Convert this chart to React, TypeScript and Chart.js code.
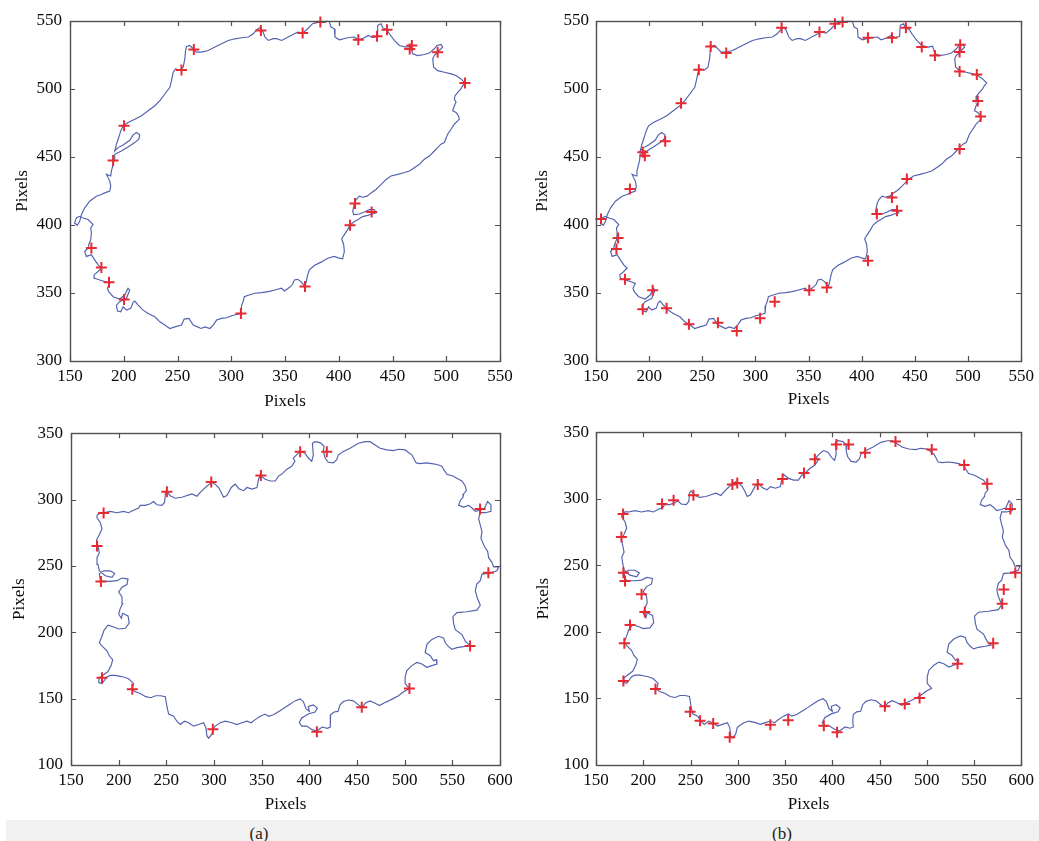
import React, { useEffect, useRef } from 'react';
import { Chart, registerables } from 'chart.js';
Chart.register(...registerables);

type Pt = [number, number];

// Contour of the upper object (panels top row)
const contourA: Pt[] = [
  [160.6,407.6],[163.7,412.6],[168.3,417.5],[174.5,421.2],[179.2,422.4],[182.3,423.6],[187.0,424.9],[187.9,428.6],[187.0,432.3],[183.9,437.2],[187.9,436.0],[188.5,439.7],[190.1,444.6],[191.0,447.5],[191.6,452.0],[197.8,454.4],[204.0,457.4],[210.3,460.6],[214.0,463.1],[214.9,466.3],[211.8,468.0],[208.7,466.3],[205.6,462.3],[199.4,458.9],[194.7,456.9],[191.6,454.4],[193.2,459.4],[195.3,464.3],[197.2,469.2],[199.4,472.9],[204.0,475.4],[210.3,477.8],[216.5,480.3],[222.7,484.0],[228.9,487.7],[233.6,491.4],[238.2,496.3],[242.9,501.2],[244.4,506.2],[246.0,512.3],[248.1,514.8],[252.2,514.0],[255.3,516.0],[256.8,522.2],[257.5,528.3],[258.4,531.3],[261.5,532.0],[265.2,529.1],[267.7,527.1],[272.4,527.1],[278.6,528.3],[284.8,530.8],[291.0,533.3],[297.2,535.7],[303.4,536.9],[309.6,537.7],[315.9,538.2],[320.5,540.6],[323.6,543.6],[326.7,545.1],[328.9,543.1],[331.4,538.2],[334.5,535.7],[339.2,537.0],[342.3,537.0],[346.9,535.7],
  [355.6,539.4],[361.8,541.9],[366.4,541.1],[371.1,544.3],[375.7,548.0],[382.9,549.5],[389.7,549.8],[391.2,549.5],[392.8,545.6],[395.9,544.3],[396.5,538.2],[400.5,536.2],[408.3,537.7],[414.5,538.2],[418.2,536.2],[423.8,537.7],[427.5,539.4],[431.6,537.7],[435.6,538.7],[436.2,546.8],[439.3,548.0],[440.9,545.1],[444.9,543.6],[447.1,540.6],[451.7,535.7],[456.4,532.0],[462.6,530.8],[466.6,531.5],[468.8,525.9],[473.4,524.6],[479.6,525.4],[484.3,526.4],[488.9,529.6],[491.4,532.0],[495.1,532.8],[496.7,530.8],[493.6,528.3],[488.9,524.6],[487.4,522.2],[488.3,516.0],[492.0,513.5],[498.2,512.3],[504.4,511.1],[509.1,509.9],[513.7,507.4],[517.5,504.4],[515.3,502.5],[513.7,500.0],[510.6,497.5],[508.2,495.1],[507.5,492.6],[509.1,490.2],[507.5,487.7],[506.0,484.0],[509.1,482.8],[511.3,480.3],[512.2,477.8],[510.6,476.6],[507.5,474.1],[504.4,470.4],[501.3,466.8],[499.8,463.8],[498.2,460.6],[495.1,459.4],[492.0,456.9],[488.9,454.4],[484.3,450.7],[479.6,448.3],[475.0,444.6],[470.3,442.1],[465.7,439.7],[460.4,438.4],[454.8,437.2],[448.6,436.0],[444.0,433.5],[440.9,431.0],[437.8,428.6],[434.7,426.1],[430.0,423.6],[426.3,421.2],[422.3,420.4],[419.2,421.2],[416.1,418.7],[414.5,415.8],[413.0,410.1],[413.9,407.6],[419.2,408.1],[423.8,409.6],[428.5,411.3],[433.1,411.3],[434.7,408.9],[430.6,408.1],[426.9,407.1],[422.3,406.2],[417.6,403.9],[413.9,402.2],[410.5,399.8],[408.3,396.6],[405.2,392.9],[402.7,389.9],[404.6,385.5],[405.2,380.5],[403.6,375.1],[400.5,375.6],[395.9,376.9],[389.7,375.6],[383.5,372.7],[377.3,370.2],[372.6,367.0],[371.1,363.3],[369.8,358.4],[368.6,354.7],[364.9,358.4],[361.8,360.1],[358.7,359.6],[357.1,356.4],[354.0,354.0],[349.4,351.5],
  [346.9,353.5],[340.7,352.2],[334.5,351.0],[328.3,350.3],[322.1,349.8],[315.9,348.4],[312.1,347.3],[311.2,344.1],[309.6,340.7],[309.0,335.0],[305.0,334.2],[300.3,333.3],[295.7,331.8],[291.0,331.3],[286.4,330.1],[283.2,326.4],[280.1,323.9],[275.5,325.1],[271.8,323.9],[268.6,325.1],[264.6,326.4],[260.6,331.3],[256.2,330.8],[253.7,326.4],[247.5,325.1],[242.9,323.9],[238.2,326.4],[233.6,328.8],[228.9,332.5],[222.7,335.0],[218.0,337.4],[213.4,341.1],[210.3,344.1],[208.7,343.1],[206.5,338.7],[202.5,337.4],[199.4,339.9],[197.2,336.2],[194.1,336.7],[193.2,341.1],[196.3,343.6],[202.5,346.1],[205.6,352.2],[204.0,353.5],[200.9,348.5],[196.3,345.6],[190.1,347.3],[186.0,351.0],[184.8,353.5],[187.0,357.1],[182.3,358.4],[177.6,359.6],[173.0,360.8],[172.4,363.3],[176.1,365.8],[179.2,368.2],[176.1,370.7],[173.0,374.4],[169.9,378.1],[165.2,376.9],[163.7,380.5],[166.8,383.0],[167.4,385.5],[169.3,389.2],[169.9,394.1],[169.3,397.8],[171.4,400.3],[166.8,404.0],[162.1,405.2],[159.0,406.4],[155.9,405.2],[154.3,401.5],[156.8,399.8],[159.0,402.7]
];

// Contour of the lower object (panels bottom row)
const contourB: Pt[] = [
  [177.3,288.2],[180.7,290.1],[184.2,290.1],[191.2,291.1],[198.2,290.1],[205.2,291.1],[210.4,290.1],[215.7,291.9],[220.9,293.6],[222.6,295.6],[227.9,295.6],[233.2,296.8],[236.6,298.5],[240.1,296.1],[245.4,295.6],[248.2,298.0],[248.9,304.2],[250.6,305.9],[254.1,302.9],[259.4,301.0],[266.4,301.7],[271.6,303.0],[276.8,304.2],[282.1,302.5],[285.6,305.4],[289.1,307.9],[293.6,310.8],[297.8,312.8],[301.3,311.6],[304.8,309.1],[307.6,305.4],[310.0,301.7],[313.5,303.0],[318.1,309.1],[322.3,311.6],[325.8,308.4],[331.0,306.7],[334.6,309.1],[339.8,307.9],[345.1,309.1],[346.7,315.3],[348.5,318.2],[353.7,315.3],[359.0,314.0],[364.2,314.0],[367.7,317.7],
  [370.9,319.0],[376.2,322.7],[381.4,325.1],[384.9,328.8],[383.2,331.3],[388.4,335.0],[390.9,336.2],[395.4,335.0],[399.0,331.3],[402.5,328.8],[404.2,333.7],[403.2,342.4],[406.0,343.6],[411.2,342.9],[415.4,340.4],[414.7,336.2],[416.5,331.3],[420.0,328.1],[425.2,327.6],[428.7,330.0],[430.5,333.7],[435.7,336.2],[442.7,338.7],[451.5,342.4],[458.5,343.6],[463.7,343.6],[469.0,341.1],[474.3,338.7],[481.3,337.4],[488.3,336.9],[493.5,337.9],[500.5,337.4],[504.0,335.5],[507.5,333.7],[509.3,331.3],[512.1,327.6],[516.3,327.1],[522.6,327.6],[528.5,327.1],[533.8,326.4],[539.1,325.1],[540.8,322.7],[544.3,319.0],[550.6,317.7],[556.6,315.3],[560.1,314.0],[563.6,310.3],[564.7,306.7],[561.8,304.2],[561.2,301.7],[558.3,299.3],[556.6,295.6],[561.8,294.3],[567.1,295.6],[570.6,293.6],[574.1,291.1],[578.6,291.9],[583.5,293.1],[587.0,298.5],[590.5,296.1],[590.5,291.1],[584.6,290.1],[579.3,290.1],[577.6,285.7],[579.3,280.8],[581.1,275.9],[580.0,270.9],[583.5,264.8],[587.0,261.1],[588.1,256.2],[591.6,252.5],[593.3,249.3],[598.6,249.3],[596.8,246.3],[588.1,244.3],[581.1,243.8],[579.3,238.9],[575.8,236.5],[574.1,231.5],[575.8,226.6],[579.3,220.4],[575.8,216.7],[565.3,215.5],[554.8,214.8],[550.6,211.8],[551.3,206.9],[553.1,202.0],[560.1,198.3],[563.6,193.3],[568.2,190.1],[561.8,189.2],[554.8,188.4],[549.6,187.2],[546.1,189.2],[542.6,192.1],[540.8,195.8],[535.6,197.0],[528.5,194.6],[523.3,190.9],[521.5,184.7],[526.8,182.3],[530.3,178.6],[533.1,179.4],[533.8,176.1],[528.5,174.9],[523.3,173.6],[518.0,176.1],[512.8,177.3],[507.5,174.9],[502.3,171.2],[500.5,166.3],[500.5,161.3],[505.1,157.6],[498.8,155.2],[493.5,152.2],[488.3,150.2],[483.0,148.3],[477.8,146.6],[473.6,144.8],[469.0,146.6],[463.7,148.3],[458.5,146.6],[455.7,143.3],[451.5,145.3],[446.2,148.3],[440.9,149.0],[435.7,147.8],[432.2,145.3],[430.1,140.4],[425.9,139.9],[422.3,137.9],[421.7,133.0],[422.3,128.6],[418.8,127.6],[413.5,128.6],[407.7,125.6],[402.5,126.8],[397.2,129.3],[392.0,129.3],[389.5,131.8],[392.0,135.5],[398.9,138.4],[406.0,139.9],[408.4,142.9],[404.2,145.3],[398.9,144.1],[400.0,140.4],[396.5,142.4],[393.7,147.8],[390.2,149.8],[384.9,148.3],[379.7,145.8],[374.4,143.3],[369.2,140.9],
  [362.4,137.9],[357.2,136.7],[353.7,138.4],[348.5,136.7],[343.2,134.2],[339.0,131.8],[334.5,133.0],[329.2,131.8],[324.0,130.5],[318.8,131.8],[311.8,133.0],[306.5,131.8],[301.3,129.3],[299.5,128.1],[297.8,123.2],[294.3,120.2],[292.6,121.9],[291.5,128.1],[289.1,131.8],[283.8,130.5],[278.6,129.3],[273.3,131.8],[269.1,133.0],[264.6,130.5],[261.1,133.0],[257.6,136.7],[252.4,138.4],[250.6,144.1],[248.9,151.5],[244.1,152.2],[238.8,152.2],[233.6,150.7],[228.4,151.5],[222.7,153.9],[217.4,155.2],[213.9,156.9],[215.7,161.3],[210.4,165.0],[205.2,166.3],[200.0,167.0],[196.5,167.5],[191.2,167.5],[187.7,166.3],[182.5,161.3],[179.0,162.1],[179.7,165.5],[184.2,168.0],[188.8,170.4],[192.3,175.4],[193.7,179.3],[190.2,182.3],[187.7,186.0],[182.5,189.7],[179.7,192.1],
  [182.5,197.0],[184.6,201.5],[188.8,205.4],[194.7,204.0],[200.0,202.5],[207.0,203.0],[211.1,206.9],[209.8,212.3],[204.2,214.3],[202.8,210.6],[200.0,213.8],[201.7,218.0],[204.2,221.7],[203.5,226.6],[200.0,230.3],[203.5,234.0],[208.7,236.0],[209.8,240.1],[203.5,240.9],[198.2,238.9],[191.2,238.4],[184.2,238.4],[180.7,239.4],[179.7,244.3],[184.2,246.3],[191.2,246.3],[195.8,244.3],[193.0,241.4],[186.0,242.6],[179.7,246.3],[178.3,251.2],[177.3,256.2],[179.7,259.9],[178.3,264.8],[176.9,269.7],[179.7,273.4],[182.5,277.8],[180.7,282.8],[177.3,286.2]
];

// Detected corner points (red crosses)
const cornersTopA: Pt[] = [
  [265.2,529.1],[253.7,514.0],[200.3,472.9],[190.1,447.5],[169.9,383.0],[179.2,368.7],[186.3,357.9],[200.3,345.3],[309.0,335.0],[368.6,354.7],[410.5,399.8],[430.6,409.6],[415.1,415.8],[517.4,504.4],[492.0,527.0],[466.0,529.5],[468.0,532.0],[444.9,543.6],[435.6,538.7],[418.2,536.2],[382.9,549.3],[366.4,541.1],[327.6,543.1]
];
const cornersTopB: Pt[] = [
  [154.7,404.4],[170.8,390.4],[169.2,382.3],[177.3,360.2],[203.3,352.1],[194.0,338.1],[216.4,338.8],[237.4,327.0],[264.7,328.2],[282.4,322.1],[304.4,331.4],[318.1,343.5],[350.6,352.1],[367.1,354.0],[405.8,373.7],[414.2,408.1],[433.1,410.5],[428.4,420.3],[442.4,433.8],[492.0,455.9],[511.8,479.8],[509.1,491.1],[508.2,510.7],[492.0,512.9],[492.0,527.2],[492.6,532.6],[468.8,524.7],[456.4,530.8],[441.5,545.1],[428.4,537.7],[405.8,537.7],[381.9,549.3],[374.8,548.0],[360.2,541.9],[324.6,545.1],[272.5,526.4],[257.9,531.3],[246.7,514.1],[230.0,489.6],[215.1,461.6],[195.9,451.0],[194.0,453.5],[181.9,426.5]
];
const cornersBottomA: Pt[] = [
  [177.3,265.0],[184.2,289.8],[181.4,238.3],[182.5,165.8],[214.3,157.0],[250.6,305.8],[297.1,313.2],[349.2,318.1],[390.4,336.0],[418.3,336.0],[298.8,127.0],[407.9,125.0],[455.0,143.5],[505.0,157.7],[568.6,189.6],[587.8,244.9],[579.1,292.8]
];
const cornersBottomB: Pt[] = [
  [178.7,288.6],[176.9,271.2],[179.0,244.4],[180.7,238.3],[198.2,228.2],[201.7,214.9],[186.0,205.1],[180.0,191.4],[179.0,163.1],[212.9,157.0],[219.9,296.0],[232.1,298.9],[253.1,302.6],[249.6,140.0],[260.1,133.2],[274.0,131.2],[291.5,120.9],[294.3,310.7],[299.5,311.9],[321.2,310.7],[347.4,314.9],[370.1,319.3],[381.6,329.6],[404.4,340.7],[417.3,340.7],[434.8,334.5],[466.9,343.1],[505.3,337.0],[539.6,325.4],[564.0,311.2],[588.5,292.3],[593.7,244.4],[581.5,231.9],[579.8,221.1],[570.3,191.4],[532.6,176.1],[492.4,150.3],[476.7,145.9],[455.7,144.2],[405.1,124.6],[391.1,129.5],[334.5,130.2],[353.4,133.6]
];

// Tick values
const xTicksTop = [150, 200, 250, 300, 350, 400, 450, 500, 550];
const yTicksTop = [300, 350, 400, 450, 500, 550];
const xTicksBottom = [150, 200, 250, 300, 350, 400, 450, 500, 550, 600];
const yTicksBottom = [100, 150, 200, 250, 300, 350];
const axisTitle = 'Pixels';
const captions = ['(a)', '(b)'];

const FONT = "'Liberation Serif', 'DejaVu Serif', serif";
const BLUE = '#5261ae';
const RED = '#e62a32';
const FRAME = '#505050';
const TEXT = '#0a0a0a';

const framePlugin = {
  id: 'frameBox',
  afterDraw(chart: any) {
    const { ctx, chartArea: a, scales } = chart;
    const x = scales.x, y = scales.y;
    const L = 5;
    ctx.save();
    ctx.strokeStyle = FRAME;
    ctx.lineWidth = 1.2;
    ctx.beginPath();
    x.ticks.forEach((t: any) => {
      const px = Math.round(x.getPixelForValue(t.value)) + 0.5;
      ctx.moveTo(px, a.bottom); ctx.lineTo(px, a.bottom - L);
      ctx.moveTo(px, a.top); ctx.lineTo(px, a.top + L);
    });
    y.ticks.forEach((t: any) => {
      const py = Math.round(y.getPixelForValue(t.value)) + 0.5;
      ctx.moveTo(a.left, py); ctx.lineTo(a.left + L, py);
      ctx.moveTo(a.right, py); ctx.lineTo(a.right - L, py);
    });
    ctx.stroke();
    ctx.lineWidth = 1.4;
    ctx.strokeRect(Math.round(a.left) + 0.5, Math.round(a.top) + 0.5, Math.round(a.right - a.left), Math.round(a.bottom - a.top));
    ctx.restore();
  },
};

interface PanelProps {
  contour: Pt[];
  corners: Pt[];
  xTicks: number[];
  yTicks: number[];
  left: number;
  top: number;
  width: number;
  height: number;
  area: { left: number; right: number; top: number; bottom: number };
  xTickPad: number;
  yTickPad: number;
  xTitlePad: number;
  yTitlePad: number;
}

function Panel(p: PanelProps) {
  const ref = useRef<HTMLCanvasElement>(null);
  useEffect(() => {
    const font = { family: FONT, size: 17 };
    const closed = p.contour.concat([p.contour[0]]);
    const chart = new Chart(ref.current as HTMLCanvasElement, {
      type: 'scatter',
      data: {
        datasets: [
          {
            data: p.corners.map(([x, y]) => ({ x, y })),
            showLine: false,
            pointStyle: 'cross',
            pointRadius: 5.5,
            pointBorderWidth: 2,
            borderColor: RED,
            pointBorderColor: RED,
            backgroundColor: RED,
            clip: false,
          } as any,
          {
            data: closed.map(([x, y]) => ({ x, y })),
            showLine: true,
            pointRadius: 0,
            borderColor: BLUE,
            borderWidth: 1.15,
            tension: 0,
            clip: false,
          } as any,
        ],
      },
      options: {
        responsive: false,
        animation: false,
        events: [],
        layout: { padding: { left: 0, top: p.area.top, right: p.width - p.area.right, bottom: 0 } },
        plugins: { legend: { display: false }, tooltip: { enabled: false } },
        scales: {
          x: {
            type: 'linear',
            min: p.xTicks[0],
            max: p.xTicks[p.xTicks.length - 1],
            afterBuildTicks: (s: any) => { s.ticks = p.xTicks.map((v) => ({ value: v })); },
            afterFit: (s: any) => { s.height = p.height - p.area.bottom; },
            grid: { display: false, drawTicks: false },
            border: { display: false },
            ticks: { padding: p.xTickPad, font, color: TEXT, maxRotation: 0, autoSkip: false },
            title: { display: true, text: axisTitle, font, color: TEXT, padding: { top: 0, bottom: p.xTitlePad } },
          },
          y: {
            type: 'linear',
            min: p.yTicks[0],
            max: p.yTicks[p.yTicks.length - 1],
            afterBuildTicks: (s: any) => { s.ticks = p.yTicks.map((v) => ({ value: v })); },
            afterFit: (s: any) => { s.width = p.area.left; },
            grid: { display: false, drawTicks: false },
            border: { display: false },
            ticks: { padding: p.yTickPad, font, color: TEXT, autoSkip: false },
            title: { display: true, text: axisTitle, font, color: TEXT, padding: { top: p.yTitlePad, bottom: 0 } },
          },
        },
      } as any,
      plugins: [framePlugin],
    });
    return () => chart.destroy();
  }, []);
  return (
    <canvas
      ref={ref}
      width={p.width}
      height={p.height}
      style={{ position: 'absolute', left: p.left, top: p.top, width: p.width, height: p.height }}
    />
  );
}

export default function App() {
  const capStyle: React.CSSProperties = {
    position: 'absolute',
    top: 824,
    width: 60,
    textAlign: 'center',
    fontFamily: FONT,
    fontSize: 17,
    lineHeight: '19px',
    color: '#222',
  };
  return (
    <div style={{ position: 'absolute', left: 0, top: 0, width: 1039, height: 841, background: '#fff', overflow: 'hidden' }}>
      <Panel contour={contourA} corners={cornersTopA} xTicks={xTicksTop} yTicks={yTicksTop}
        left={0} top={0} width={519} height={415}
        area={{ left: 70, right: 500, top: 21, bottom: 361 }}
        xTickPad={5} yTickPad={8} xTitlePad={3} yTitlePad={12} />
      <Panel contour={contourA} corners={cornersTopB} xTicks={xTicksTop} yTicks={yTicksTop}
        left={519} top={0} width={520} height={415}
        area={{ left: 77, right: 506, top: 21, bottom: 361 }}
        xTickPad={5} yTickPad={7} xTitlePad={5} yTitlePad={13} />
      <Panel contour={contourB} corners={cornersBottomA} xTicks={xTicksBottom} yTicks={yTicksBottom}
        left={0} top={415} width={519} height={405}
        area={{ left: 71, right: 500, top: 11, bottom: 350 }}
        xTickPad={5} yTickPad={8} xTitlePad={5} yTitlePad={9} />
      <Panel contour={contourB} corners={cornersBottomB} xTicks={xTicksBottom} yTicks={yTicksBottom}
        left={519} top={415} width={520} height={405}
        area={{ left: 77, right: 506, top: 11, bottom: 350 }}
        xTickPad={5} yTickPad={7} xTitlePad={5} yTitlePad={14} />
      <div style={{ position: 'absolute', left: 6, top: 820, width: 1033, height: 21, background: '#f1f1f1' }} />
      <div style={{ ...capStyle, left: 259 - 30 }}>{captions[0]}</div>
      <div style={{ ...capStyle, left: 782 - 30 }}>{captions[1]}</div>
    </div>
  );
}
